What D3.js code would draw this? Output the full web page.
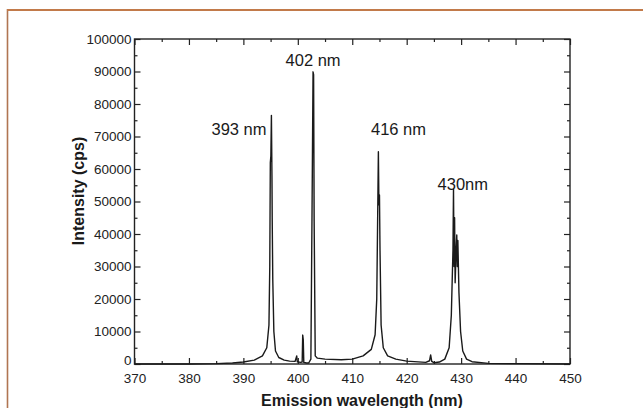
<!DOCTYPE html>
<html>
<head>
<meta charset="utf-8">
<script src="https://cdn.jsdelivr.net/npm/d3@7"></script>
<style>
  body { margin: 0; background: #fff; }
  svg { display: block; font-family: 'Liberation Sans', Arial, sans-serif; }
</style>
</head>
<body>
<svg width="643" height="408"></svg>
<script>
// spectrum
const wavelength = [370, 380, 385, 388, 390, 392, 393.5, 394.3, 394.7, 394.85, 394.95, 395.05, 395.15, 395.25, 395.3, 395.4, 395.6, 395.9, 396.5, 397.5, 398.5, 399.5, 399.8, 399.9, 400.5, 400.8, 400.9, 401.0, 401.1, 401.6, 402.0, 402.4, 402.6, 402.8, 402.9, 403.0, 403.2, 403.6, 405, 408, 410, 412, 413.5, 414.2, 414.5, 414.7, 414.8, 414.9, 415.0, 415.1, 415.3, 415.7, 416.5, 418, 420, 423.5, 424.2, 424.4, 424.6, 425, 426, 427, 427.8, 428.2, 428.5, 428.6, 428.7, 428.8, 428.9, 429.1, 429.2, 429.3, 429.4, 429.6, 429.9, 430.3, 431, 432, 435, 440, 450];
const intensity = [0, 0, 100, 300, 600, 1200, 2500, 5000, 12000, 30000, 62000, 64000, 76500, 58000, 44000, 26000, 10000, 4000, 2000, 1200, 900, 800, 2500, 700, 500, 600, 8900, 7500, 500, 300, 300, 1500, 44000, 89900, 89000, 44000, 2500, 1800, 1500, 1300, 1500, 2500, 4500, 9000, 20000, 50000, 65300, 49000, 52000, 35000, 12000, 5000, 2500, 1500, 900, 500, 1000, 2800, 800, 400, 600, 1500, 5000, 15000, 35000, 53800, 30000, 45000, 25000, 36000, 39700, 30000, 38000, 22000, 10000, 4000, 1500, 700, 200, 100, 0];

const peakLabels = ['393 nm', '402 nm', '416 nm', '430nm'];
const peakLabelWl = [389.2, 402.8, 418.5, 430.3];
const peakLabelI = [70500, 91800, 70500, 53600];

const xTicks = [370, 380, 390, 400, 410, 420, 430, 440, 450];
const xMinor = [375, 385, 395, 405, 415, 425, 435, 445];
const yTicks = d3.range(0, 100001, 10000);
const yMinor = d3.range(5000, 100000, 10000);

const svg = d3.select('svg');
const margin = { top: 39, right: 73, bottom: 44, left: 134.5 };
const plotWidth = 643 - margin.left - margin.right;
const plotHeight = 408 - margin.top - margin.bottom;

// scanned page border
svg.append('line').attr('x1', 7.5).attr('x2', 7.5).attr('y1', 9).attr('y2', 408)
  .attr('stroke', '#b07552').attr('stroke-width', 1.6);
svg.append('line').attr('x1', 7).attr('x2', 643).attr('y1', 10).attr('y2', 10)
  .attr('stroke', '#c27a4a').attr('stroke-width', 2);

const g = svg.append('g').attr('transform', `translate(${margin.left},${margin.top})`);

const x = d3.scaleLinear().domain([370, 450]).range([0, plotWidth]);
const y = d3.scaleLinear().domain([0, 100000]).range([plotHeight, 0]);

const styleAxis = sel => {
  sel.select('.domain').remove();
  sel.selectAll('line').attr('stroke', '#222').attr('stroke-width', 1.2);
  sel.selectAll('text').attr('fill', '#222').style('font-size', '13.5px');
};

// major + minor ticks, all pointing inward
g.append('g').attr('transform', `translate(0,${plotHeight})`)
  .call(d3.axisBottom(x).tickValues(xTicks).tickSize(-6).tickPadding(9).tickFormat(d3.format('d')))
  .call(styleAxis);
g.append('g').attr('transform', `translate(0,${plotHeight})`)
  .call(d3.axisBottom(x).tickValues(xMinor).tickSize(-3).tickFormat(''))
  .call(styleAxis);
g.append('g')
  .call(d3.axisTop(x).tickValues(xTicks).tickSize(-6).tickFormat(''))
  .call(styleAxis);
g.append('g')
  .call(d3.axisTop(x).tickValues(xMinor).tickSize(-3).tickFormat(''))
  .call(styleAxis);

const yAxis = g.append('g')
  .call(d3.axisLeft(y).tickValues(yTicks).tickSize(-6).tickPadding(3).tickFormat(d3.format('d')))
  .call(styleAxis);
// the "0" sits a touch higher so it clears "370"
yAxis.selectAll('.tick text').filter(d => d === 0).attr('dy', '0.05em');
g.append('g')
  .call(d3.axisLeft(y).tickValues(yMinor).tickSize(-3).tickFormat(''))
  .call(styleAxis);
g.append('g').attr('transform', `translate(${plotWidth},0)`)
  .call(d3.axisRight(y).tickValues(yTicks).tickSize(-6).tickFormat(''))
  .call(styleAxis);
g.append('g').attr('transform', `translate(${plotWidth},0)`)
  .call(d3.axisRight(y).tickValues(yMinor).tickSize(-3).tickFormat(''))
  .call(styleAxis);

// frame
g.append('rect').attr('width', plotWidth).attr('height', plotHeight)
  .attr('fill', 'none').attr('stroke', '#222').attr('stroke-width', 1.4);

// spectrum
const line = d3.line().x(i => x(wavelength[i])).y(i => y(intensity[i]));
g.append('path')
  .attr('d', line(d3.range(wavelength.length)))
  .attr('fill', 'none').attr('stroke', '#1a1a1a').attr('stroke-width', 1.4)
  .attr('stroke-linejoin', 'round');

// peak labels
g.selectAll('text.peak').data(peakLabels).join('text')
  .attr('class', 'peak')
  .attr('x', (d, i) => x(peakLabelWl[i]))
  .attr('y', (d, i) => y(peakLabelI[i]))
  .attr('text-anchor', 'middle')
  .attr('fill', '#1a1a1a')
  .style('font-size', '16.5px')
  .text(d => d);

// axis titles
svg.append('text')
  .attr('x', 362).attr('y', 406)
  .attr('text-anchor', 'middle')
  .attr('fill', '#1a1a1a')
  .style('font-size', '16px').style('font-weight', 'bold')
  .text('Emission wavelength (nm)');

svg.append('text')
  .attr('transform', 'translate(84,191) rotate(-90)')
  .attr('text-anchor', 'middle')
  .attr('fill', '#1a1a1a')
  .style('font-size', '16px').style('font-weight', 'bold')
  .text('Intensity (cps)');
</script>
</body>
</html>
